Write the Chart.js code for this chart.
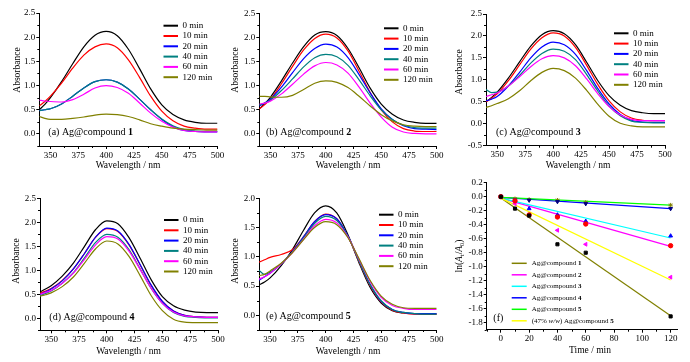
<!DOCTYPE html>
<html>
<head>
<meta charset="utf-8">
<script src="https://cdn.jsdelivr.net/npm/chart.js@4.4.0/dist/chart.umd.min.js"></script>
<style>
  html, body { margin: 0; padding: 0; background: #fff; }
  body { width: 690px; height: 362px; position: relative; overflow: hidden; }
  canvas { position: absolute; }
</style>
</head>
<body>
<canvas id="pa"></canvas>
<canvas id="pb"></canvas>
<canvas id="pc"></canvas>
<canvas id="pd"></canvas>
<canvas id="pe"></canvas>
<canvas id="pf"></canvas>
<script>
// --- DATA ---
const WAVELENGTHS = [340, 345, 350, 360, 370, 380, 390, 400, 410, 420, 430, 440, 450, 460, 470, 480, 490, 500];
const TIME_LABELS = ['0 min', '10 min', '20 min', '40 min', '60 min', '120 min'];
const SPEC_COLORS = ['#000000', '#ff0000', '#0000ff', '#008080', '#ff00ff', '#808000'];
const WL_TICKS = [350, 375, 400, 425, 450, 475, 500];
const ABS_TICKS = [0, 0.5, 1.0, 1.5, 2.0, 2.5];
const ABS_TICKS_C = [-0.5, 0, 0.5, 1.0, 1.5, 2.0, 2.5];
const ABS_TICKS_E = [0, 0.5, 1.0, 1.5, 2.0];

// (a) Ag@compound 1
const A_0   = [0.50, 0.61, 0.75, 1.08, 1.45, 1.80, 2.04, 2.12, 2.03, 1.75, 1.35, 0.93, 0.60, 0.40, 0.29, 0.24, 0.22, 0.22];
const A_10  = [0.58, 0.67, 0.78, 1.05, 1.36, 1.63, 1.80, 1.86, 1.78, 1.53, 1.17, 0.78, 0.47, 0.27, 0.16, 0.12, 0.10, 0.10];
const A_20  = [0.48, 0.50, 0.52, 0.62, 0.78, 0.95, 1.08, 1.12, 1.07, 0.93, 0.72, 0.50, 0.30, 0.15, 0.07, 0.05, 0.04, 0.04];
const A_40  = [0.48, 0.50, 0.52, 0.62, 0.78, 0.95, 1.08, 1.12, 1.07, 0.93, 0.72, 0.50, 0.31, 0.17, 0.09, 0.06, 0.05, 0.05];
const A_60  = [0.70, 0.68, 0.67, 0.66, 0.71, 0.82, 0.95, 1.00, 0.96, 0.84, 0.64, 0.43, 0.26, 0.14, 0.07, 0.05, 0.04, 0.04];
const A_120 = [0.36, 0.32, 0.30, 0.30, 0.32, 0.35, 0.39, 0.41, 0.40, 0.36, 0.29, 0.21, 0.16, 0.12, 0.10, 0.09, 0.08, 0.08];

// (b) Ag@compound 2
const B_0   = [0.52, 0.63, 0.76, 1.10, 1.47, 1.81, 2.05, 2.12, 2.04, 1.77, 1.37, 0.95, 0.62, 0.41, 0.29, 0.24, 0.22, 0.22];
const B_10  = [0.52, 0.61, 0.72, 1.04, 1.40, 1.74, 1.98, 2.07, 1.99, 1.72, 1.30, 0.86, 0.50, 0.25, 0.11, 0.06, 0.05, 0.05];
const B_20  = [0.58, 0.64, 0.72, 0.97, 1.27, 1.56, 1.77, 1.86, 1.80, 1.58, 1.23, 0.85, 0.52, 0.30, 0.17, 0.11, 0.10, 0.09];
const B_40  = [0.60, 0.64, 0.70, 0.90, 1.14, 1.39, 1.58, 1.65, 1.60, 1.42, 1.12, 0.79, 0.50, 0.30, 0.18, 0.13, 0.12, 0.12];
const B_60  = [0.62, 0.64, 0.68, 0.83, 1.03, 1.24, 1.41, 1.48, 1.43, 1.26, 0.97, 0.64, 0.35, 0.14, 0.04, 0.01, 0.00, 0.00];
const B_120 = [0.78, 0.78, 0.77, 0.76, 0.80, 0.92, 1.05, 1.10, 1.07, 0.96, 0.78, 0.58, 0.40, 0.27, 0.19, 0.16, 0.15, 0.15];

// (c) Ag@compound 3
const C_0   = [0.50, 0.60, 0.72, 1.04, 1.41, 1.77, 2.03, 2.12, 2.05, 1.80, 1.40, 0.98, 0.64, 0.42, 0.30, 0.25, 0.23, 0.23];
const C_10  = [0.50, 0.58, 0.68, 0.98, 1.34, 1.70, 1.96, 2.07, 2.00, 1.74, 1.33, 0.89, 0.52, 0.27, 0.13, 0.08, 0.07, 0.07];
const C_20  = [0.52, 0.56, 0.62, 0.86, 1.17, 1.50, 1.75, 1.86, 1.80, 1.58, 1.21, 0.80, 0.45, 0.21, 0.08, 0.04, 0.03, 0.03];
const C_40  = [0.78, 0.71, 0.72, 0.86, 1.10, 1.38, 1.60, 1.70, 1.65, 1.46, 1.12, 0.74, 0.40, 0.18, 0.06, 0.03, 0.02, 0.02];
const C_60  = [0.62, 0.66, 0.70, 0.86, 1.07, 1.30, 1.48, 1.55, 1.50, 1.32, 1.02, 0.68, 0.39, 0.20, 0.10, 0.07, 0.07, 0.07];
const C_120 = [0.37, 0.41, 0.46, 0.57, 0.75, 0.98, 1.17, 1.26, 1.21, 1.04, 0.76, 0.44, 0.17, 0.01, -0.05, -0.07, -0.07, -0.07];

// (d) Ag@compound 4
const D_0   = [0.55, 0.61, 0.68, 0.88, 1.15, 1.50, 1.85, 2.03, 1.97, 1.68, 1.25, 0.80, 0.45, 0.26, 0.17, 0.13, 0.12, 0.12];
const D_10  = [0.52, 0.57, 0.62, 0.79, 1.03, 1.35, 1.69, 1.87, 1.81, 1.53, 1.11, 0.68, 0.35, 0.15, 0.06, 0.03, 0.02, 0.02];
const D_20  = [0.50, 0.55, 0.61, 0.78, 1.03, 1.35, 1.69, 1.88, 1.82, 1.54, 1.12, 0.69, 0.35, 0.15, 0.06, 0.03, 0.02, 0.02];
const D_40  = [0.47, 0.52, 0.57, 0.73, 0.95, 1.26, 1.58, 1.75, 1.69, 1.43, 1.03, 0.62, 0.31, 0.12, 0.04, 0.02, 0.01, 0.01];
const D_60  = [0.50, 0.54, 0.58, 0.73, 0.94, 1.23, 1.53, 1.70, 1.65, 1.40, 1.02, 0.62, 0.31, 0.13, 0.05, 0.03, 0.02, 0.02];
const D_120 = [0.46, 0.49, 0.53, 0.66, 0.86, 1.15, 1.45, 1.61, 1.55, 1.29, 0.89, 0.47, 0.16, -0.02, -0.08, -0.09, -0.09, -0.09];

// (e) Ag@compound 5
const E_0   = [0.52, 0.57, 0.64, 0.85, 1.12, 1.45, 1.75, 1.87, 1.75, 1.38, 0.90, 0.48, 0.21, 0.08, 0.04, 0.03, 0.02, 0.02];
const E_10  = [0.91, 0.95, 0.99, 1.04, 1.12, 1.34, 1.60, 1.73, 1.65, 1.35, 0.92, 0.51, 0.23, 0.09, 0.04, 0.02, 0.02, 0.02];
const E_20  = [0.60, 0.66, 0.72, 0.88, 1.09, 1.34, 1.60, 1.72, 1.65, 1.36, 0.94, 0.53, 0.24, 0.10, 0.05, 0.03, 0.03, 0.03];
const E_40  = [0.77, 0.70, 0.74, 0.88, 1.08, 1.32, 1.57, 1.69, 1.62, 1.35, 0.93, 0.53, 0.25, 0.10, 0.05, 0.03, 0.02, 0.02];
const E_60  = [0.62, 0.66, 0.72, 0.88, 1.07, 1.30, 1.53, 1.64, 1.58, 1.34, 0.96, 0.58, 0.31, 0.17, 0.12, 0.10, 0.10, 0.10];
const E_120 = [0.68, 0.70, 0.76, 0.89, 1.07, 1.29, 1.50, 1.60, 1.55, 1.33, 0.97, 0.60, 0.33, 0.19, 0.13, 0.12, 0.12, 0.12];

// (f) kinetics ln(At/A0) vs time
const TIMES = [0, 10, 20, 40, 60, 120];
const TIME_TICKS = [0, 20, 40, 60, 80, 100, 120];
const LN_TICKS = [-1.8, -1.6, -1.4, -1.2, -1.0, -0.8, -0.6, -0.4, -0.2, 0, 0.2];
const F_CMP1  = [0, -0.17, -0.27, -0.68, -0.80, -1.71];
const F_CMP2  = [0, -0.06, -0.26, -0.29, -0.39, -0.70];
const F_CMP3  = [0, -0.05, -0.17, -0.26, -0.35, -0.56];
const F_CMP4  = [0, -0.05, -0.05, -0.07, -0.10, -0.17];
const F_CMP5  = [0, -0.03, -0.04, -0.05, -0.08, -0.12];
const F_CMP5W = [0, -0.10, -0.26, -0.48, -0.68, -1.15];
const FIT_TIMES = [0, 120];
const FIT_CMP1  = [-0.02, -1.70];
const FIT_CMP2  = [-0.02, -0.71];
const FIT_CMP3  = [-0.02, -0.59];
const FIT_CMP4  = [-0.01, -0.17];
const FIT_CMP5  = [-0.01, -0.12];
const FIT_CMP5W = [-0.02, -1.19];
const FIT_NAMES = ['Ag@compound **1**', 'Ag@compound **2**', 'Ag@compound **3**',
                   'Ag@compound **4**', 'Ag@compound **5**', '(47% _w/w_) Ag@compound **5**'];
const FIT_COLORS = ['#808000', '#ff00ff', '#00ffff', '#0000ff', '#00ff00', '#ffff00'];
const MARK_COLORS = ['#000000', '#ff0000', '#0000ff', '#000080', '#808000', '#ff00ff'];

// --- HELPERS ---
const SERIF = '"Liberation Serif", "Times New Roman", serif';
const DECOR = {};

function rich(str) {
  return str.split(/(\*\*[^*]+\*\*|_[^_]+_)/).filter(Boolean).map(s =>
    s.startsWith('**') ? { t: s.slice(2, -2), b: true } :
    s.startsWith('_') ? { t: s.slice(1, -1), i: true } : { t: s });
}

function drawRich(ctx, parts, x, y, size, align) {
  const segs = parts.map(p => {
    const s = p.sub ? size * 0.68 : size;
    const f = `${p.i ? 'italic ' : ''}${p.b ? 'bold ' : ''}${s}px ${SERIF}`;
    ctx.font = f;
    return { t: p.t, f, w: ctx.measureText(p.t).width, dy: p.sub ? size * 0.3 : 0 };
  });
  const total = segs.reduce((a, s) => a + s.w, 0);
  let cx = align === 'center' ? x - total / 2 : x;
  ctx.textAlign = 'left';
  ctx.textBaseline = 'middle';
  ctx.fillStyle = '#000';
  segs.forEach(s => { ctx.font = s.f; ctx.fillText(s.t, cx, y + s.dy); cx += s.w; });
}

// minor ticks, axis titles, panel label and legend
const decorPlugin = {
  id: 'decor',
  afterDraw(chart) {
    const d = DECOR[chart.canvas.id];
    if (!d) return;
    const ctx = chart.ctx;
    const ox = d.box.x, oy = d.box.y;
    ctx.save();

    // minor ticks halfway between major ones
    ctx.strokeStyle = '#000';
    ctx.lineWidth = 1;
    const xs = chart.scales.x, ys = chart.scales.y;
    const mids = (ticks, min, max) => {
      const out = [];
      const step = ticks[1] - ticks[0];
      for (let v = ticks[0] - step / 2; v <= max + 1e-9; v += step) if (v >= min - 1e-9) out.push(v);
      return out;
    };
    mids(d.xTicks, xs.min, xs.max).forEach(v => {
      const px = Math.round(xs.getPixelForValue(v)) + 0.5;
      ctx.beginPath(); ctx.moveTo(px, ys.bottom); ctx.lineTo(px, ys.bottom + 2); ctx.stroke();
    });
    mids(d.yTicks, ys.min, ys.max).forEach(v => {
      const py = Math.round(ys.getPixelForValue(v)) + 0.5;
      ctx.beginPath(); ctx.moveTo(xs.left, py); ctx.lineTo(xs.left - 2, py); ctx.stroke();
    });

    // axis titles
    ctx.save();
    ctx.translate(d.yTitle.x - ox, d.yTitle.y - oy);
    ctx.rotate(-Math.PI / 2);
    drawRich(ctx, d.yTitle.parts, 0, 0, 9.5, 'center');
    ctx.restore();
    drawRich(ctx, d.xTitle.parts, d.xTitle.x - ox, d.xTitle.y - oy, 9.5, 'center');

    // panel label
    drawRich(ctx, d.label.parts, d.label.x - ox, d.label.y - oy, 10, 'left');

    // legend
    const lg = d.legend;
    lg.items.forEach((it, i) => {
      const y = lg.y0 + i * lg.dy - oy;
      ctx.strokeStyle = it.color;
      ctx.lineWidth = lg.lw;
      ctx.beginPath(); ctx.moveTo(lg.x0 - ox, y); ctx.lineTo(lg.x1 - ox, y); ctx.stroke();
      drawRich(ctx, it.parts, lg.tx - ox, y, lg.size, 'left');
    });
    ctx.restore();
  }
};

function axis(min, max, ticks, fmt, fit) {
  return {
    type: 'linear', min, max,
    afterFit: fit,
    afterBuildTicks: s => { s.ticks = ticks.map(v => ({ value: v })); },
    ticks: {
      autoSkip: false, maxRotation: 0, padding: 1, color: '#000',
      font: { family: SERIF, size: 9 },
      callback: fmt
    },
    grid: { display: true, drawOnChartArea: false, drawTicks: true, tickLength: 3, tickColor: '#000', tickWidth: 1 },
    border: { display: true, color: '#000', width: 1 }
  };
}

function makePanel(id, box, area, x, y, datasets, decor) {
  const canvas = document.getElementById(id);
  canvas.width = box.w;
  canvas.height = box.h;
  canvas.style.left = box.x + 'px';
  canvas.style.top = box.y + 'px';
  DECOR[id] = Object.assign({ box, xTicks: x.ticks, yTicks: y.ticks }, decor);
  return new Chart(canvas, {
    type: 'line',
    data: { datasets },
    options: {
      responsive: false,
      animation: false,
      devicePixelRatio: 1,
      layout: { padding: { left: 0, top: area.t - box.y, right: box.x + box.w - area.r, bottom: 0 } },
      plugins: { legend: { display: false }, tooltip: { enabled: false } },
      scales: {
        x: axis(x.min, x.max, x.ticks, x.fmt, s => { s.height = box.y + box.h - area.b; }),
        y: axis(y.min, y.max, y.ticks, y.fmt, s => { s.width = area.l - box.x; })
      }
    },
    plugins: [decorPlugin]
  });
}

const fmtInt = v => String(v);
const fmt1 = v => v.toFixed(1);

function spectra(series) {
  return series.map((vals, i) => ({
    label: TIME_LABELS[i],
    data: WAVELENGTHS.map((w, j) => ({ x: w, y: vals[j] })),
    borderColor: SPEC_COLORS[i],
    borderWidth: 1.2,
    pointRadius: 0,
    cubicInterpolationMode: 'monotone',
    order: series.length - i
  }));
}

function specLegend(x0, y0) {
  return {
    items: TIME_LABELS.map((t, i) => ({ color: SPEC_COLORS[i], parts: rich(t) })),
    x0, x1: x0 + 14.5, tx: x0 + 19, y0, dy: 10.3, size: 9, lw: 2
  };
}

function specPanel(id, box, area, yMin, yMax, yTicks, series, d) {
  makePanel(id, box, area,
    { min: 340, max: 500, ticks: WL_TICKS, fmt: fmtInt },
    { min: yMin, max: yMax, ticks: yTicks, fmt: fmt1 },
    spectra(series),
    {
      yTitle: { parts: rich('Absorbance'), x: d.yt[0], y: d.yt[1] },
      xTitle: { parts: rich('Wavelength / nm'), x: d.xt[0], y: d.xt[1] },
      label: { parts: rich(d.label), x: d.lb[0], y: d.lb[1] },
      legend: specLegend(d.lg[0], d.lg[1])
    });
}

// --- PANELS ---
specPanel('pa', { x: 0, y: 0, w: 228, h: 181 }, { l: 39.3, t: 13, r: 217.5, b: 146 },
  -0.25, 2.5, ABS_TICKS, [A_0, A_10, A_20, A_40, A_60, A_120],
  { yt: [17, 70], xt: [128, 165.7], lb: [48.3, 132.5], lg: [163.5, 25.7], label: '(a) Ag@compound **1**' });

specPanel('pb', { x: 224, y: 0, w: 228, h: 181 }, { l: 259.3, t: 13.3, r: 436.7, b: 146 },
  -0.25, 2.5, ABS_TICKS, [B_0, B_10, B_20, B_40, B_60, B_120],
  { yt: [235, 70], xt: [348, 165.7], lb: [266, 132.7], lg: [384, 28.3], label: '(b) Ag@compound **2**' });

specPanel('pc', { x: 450, y: 0, w: 240, h: 181 }, { l: 486, t: 14, r: 665, b: 145.7 },
  -0.5, 2.5, ABS_TICKS_C, [C_0, C_10, C_20, C_40, C_60, C_120],
  { yt: [459, 72], xt: [578, 165.3], lb: [496, 132.7], lg: [614, 33.3], label: '(c) Ag@compound **3**' });

specPanel('pd', { x: 0, y: 181, w: 228, h: 181 }, { l: 40, t: 198.3, r: 218, b: 330.3 },
  -0.25, 2.5, ABS_TICKS, [D_0, D_10, D_20, D_40, D_60, D_120],
  { yt: [16.7, 261], xt: [128.5, 351.7], lb: [49.3, 317.7], lg: [164, 220], label: '(d) Ag@compound **4**' });

specPanel('pe', { x: 224, y: 181, w: 228, h: 181 }, { l: 259, t: 198.3, r: 436.7, b: 330 },
  -0.25, 2.0, ABS_TICKS_E, [E_0, E_10, E_20, E_40, E_60, E_120],
  { yt: [235, 261], xt: [348, 351.7], lb: [266, 316], lg: [379, 214.7], label: '(e) Ag@compound **5**' });

// (f) markers and fitted lines
const POINT_SETS = [F_CMP1, F_CMP2, F_CMP3, F_CMP4, F_CMP5, F_CMP5W];
const FIT_SETS = [FIT_CMP1, FIT_CMP2, FIT_CMP3, FIT_CMP4, FIT_CMP5, FIT_CMP5W];
const MARK_STYLES = [
  { pointStyle: 'rect', pointRotation: 0 },
  { pointStyle: 'circle', pointRotation: 0 },
  { pointStyle: 'triangle', pointRotation: 0 },
  { pointStyle: 'triangle', pointRotation: 180 },
  { pointStyle: 'star', pointRotation: 0 },
  { pointStyle: 'triangle', pointRotation: -90 }
];

const fDatasets = [];
FIT_SETS.forEach((vals, i) => {
  fDatasets.push({
    data: FIT_TIMES.map((t, j) => ({ x: t, y: vals[j] })),
    borderColor: FIT_COLORS[i],
    borderWidth: 1.2,
    pointRadius: 0,
    order: 10 - i
  });
});
POINT_SETS.forEach((vals, i) => {
  fDatasets.push(Object.assign({
    data: TIMES.map((t, j) => ({ x: t, y: vals[j] })),
    showLine: false,
    pointRadius: 2.2,
    borderWidth: 1,
    borderColor: MARK_COLORS[i],
    backgroundColor: MARK_COLORS[i],
    order: 0
  }, MARK_STYLES[i]));
});

makePanel('pf', { x: 450, y: 172, w: 240, h: 190 }, { l: 486.7, t: 182.7, r: 677.7, b: 329.7 },
  { min: -10, max: 125, ticks: TIME_TICKS, fmt: fmtInt },
  { min: -1.9, max: 0.2, ticks: LN_TICKS, fmt: fmt1 },
  fDatasets,
  {
    yTitle: {
      parts: [{ t: 'ln(' }, { t: 'A', i: true }, { t: 't', sub: true }, { t: '/' },
              { t: 'A', i: true }, { t: '0', sub: true }, { t: ')' }],
      x: 459, y: 256
    },
    xTitle: { parts: rich('Time / min'), x: 590, y: 350.7 },
    label: { parts: rich('(f)'), x: 493.3, y: 318.3 },
    legend: {
      items: FIT_NAMES.map((n, i) => ({ color: FIT_COLORS[i], parts: rich(n) })),
      x0: 511.7, x1: 526.7, tx: 531.7, y0: 263.3, dy: 11.5, size: 7, lw: 1.5
    }
  });
</script>
</body>
</html>
